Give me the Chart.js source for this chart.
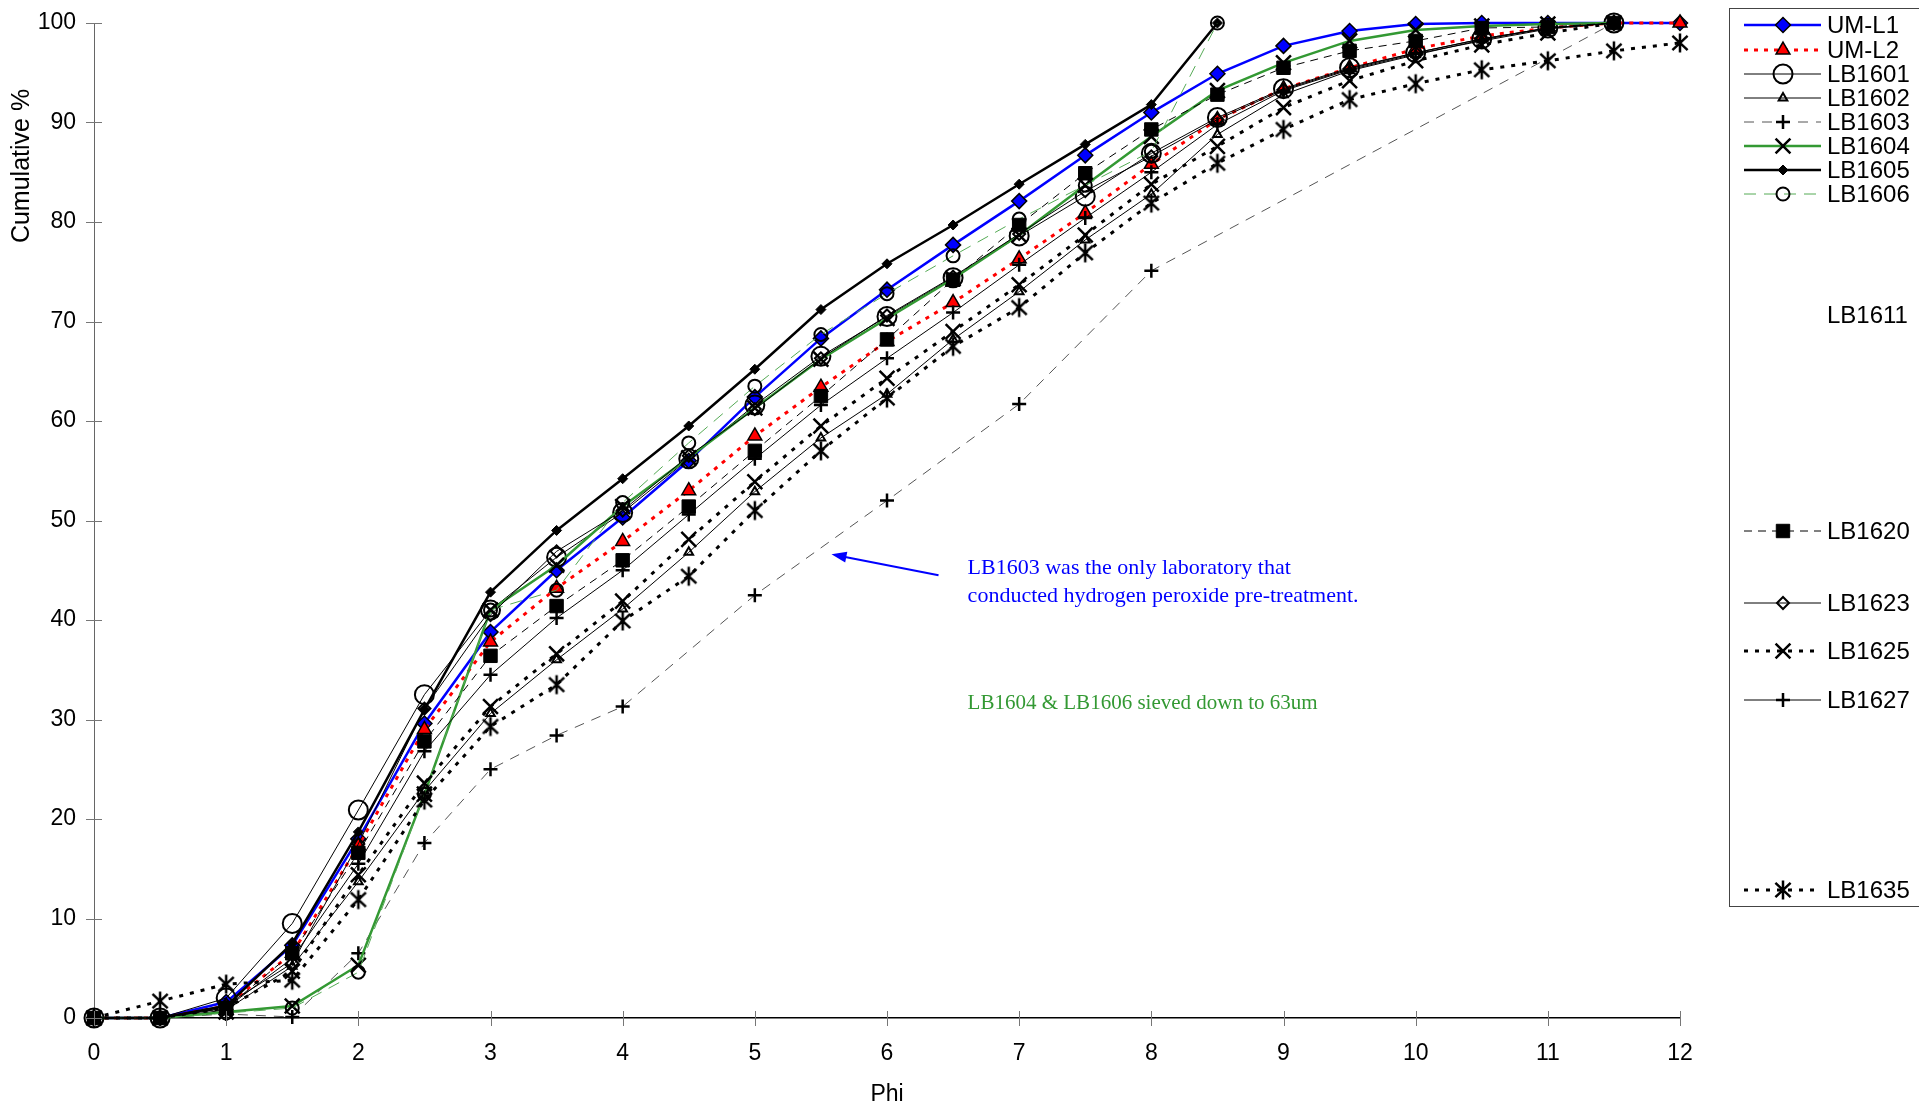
<!DOCTYPE html>
<html>
<head>
<meta charset="utf-8">
<script src="https://cdn.jsdelivr.net/npm/chart.js@4.4.1/dist/chart.umd.min.js"></script>
<style>
  html, body { margin: 0; padding: 0; background: #fff; }
  #wrap { width: 1919px; height: 1109px; }
</style>
</head>
<body>
<div id="wrap"><canvas id="chart" width="1919" height="1109"></canvas></div>
<script>
// Phi classes (x values)
const phi = [0, 0.5, 1, 1.5, 2, 2.5, 3, 3.5, 4, 4.5, 5, 5.5, 6, 6.5, 7, 7.5, 8, 8.5, 9, 9.5, 10, 10.5, 11, 11.5, 12];
const xTicks = [0, 1, 2, 3, 4, 5, 6, 7, 8, 9, 10, 11, 12];
const yTicks = [0, 10, 20, 30, 40, 50, 60, 70, 80, 90, 100];

// Cumulative % per laboratory
const umL1   = [0, 0, 1.6, 7.3, 18.0, 29.6, 38.8, 45.0, 50.3, 56.0, 62.4, 68.3, 73.2, 77.7, 82.1, 86.7, 91.0, 94.9, 97.7, 99.2, 99.9, 100, 100, 100, 100];
const umL2   = [0, 0, 1.2, 6.5, 17.3, 29.0, 37.8, 43.2, 47.9, 53.0, 58.5, 63.4, 68.0, 71.9, 76.3, 80.9, 85.8, 90.3, 93.4, 95.5, 97.4, 98.7, 99.5, 100, 100];
const lb1601 = [0, 0, 2.0, 9.5, 20.9, 32.5, 41.0, 46.3, 50.8, 56.2, 61.6, 66.5, 70.5, 74.4, 78.6, 82.6, 86.9, 90.5, 93.4, 95.5, 97.0, 98.4, 99.5, 100, null];
const lb1602 = [0, 0, 0.8, 5.2, 13.7, 22.8, 30.6, 36.0, 41.1, 46.8, 52.9, 58.3, 62.7, 68.2, 73.0, 78.2, 82.8, 88.8, 92.8, 95.2, 96.8, 98.3, 99.5, 100, null];
const lb1603 = [0, 0, 0.4, 0.1, 6.5, 17.6, 25.0, 28.4, 31.3, null, 42.5, null, 52.0, null, 61.7, null, 75.1, null, null, null, null, null, null, 100, null];
const lb1604 = [0, 0, 0.6, 1.2, 5.3, 22.5, 41.0, 45.5, 51.4, 56.3, 61.3, 66.2, 70.3, 74.3, 78.7, 83.7, 88.6, 93.2, 96.0, 98.2, 99.3, 99.7, 99.9, 100, null];
const lb1605 = [0, 0, 1.2, 7.5, 18.7, 31.0, 42.8, 49.0, 54.2, 59.5, 65.2, 71.2, 75.8, 79.7, 83.8, 87.8, 91.8, 100, null, null, null, null, null, null, null];
const lb1606 = [0, 0, 0.5, 1.0, 4.6, 22.5, 41.0, 43.0, 51.8, 57.8, 63.5, 68.7, 72.8, 76.6, 80.3, 83.7, 87.1, 100, null, null, null, null, null, null, null];
const lb1620 = [0, 0, 1.0, 6.5, 16.6, 27.8, 36.4, 41.4, 46.0, 51.4, 57.0, 62.5, 68.2, 74.2, 79.7, 84.9, 89.3, 92.8, 95.5, 97.2, 98.2, 99.5, 99.6, 100, null];
const lb1623 = [0, 0, 1.3, 5.5, 17.5, 31.1, 40.5, 46.9, 51.0, 56.5, 61.2, 66.3, 70.6, 74.5, 78.8, 83.1, 86.6, 90.3, 93.3, 95.4, 97.0, 98.4, 99.5, 100, null];
const lb1625 = [0, 0, 1.0, 4.7, 14.4, 23.6, 31.3, 36.6, 41.9, 48.1, 53.9, 59.5, 64.3, 69.0, 73.7, 78.7, 83.8, 87.6, 91.5, 94.2, 96.2, 97.8, 99.0, 100, null];
const lb1627 = [0, 0, 1.0, 6.0, 15.5, 26.8, 34.5, 40.2, 45.0, 50.6, 56.2, 61.6, 66.3, 70.9, 75.7, 80.4, 85.0, 89.8, 93.2, 95.3, 96.9, 98.2, 99.4, 100, null];
const lb1635 = [0, 1.7, 3.4, 3.8, 11.9, 21.9, 29.3, 33.5, 39.9, 44.4, 51.0, 57.0, 62.3, 67.5, 71.4, 76.9, 81.9, 85.9, 89.3, 92.3, 93.9, 95.3, 96.2, 97.2, 98.0];

// asterisk marker (X with a vertical bar), as in the original
function asterisk(size) {
    const c = document.createElement('canvas');
    c.width = size; c.height = size;
    const g = c.getContext('2d');
    const m = size / 2, r = size / 2 - 1.5;
    g.strokeStyle = '#000';
    g.lineWidth = 2.5;
    g.beginPath();
    g.moveTo(m - r * 0.8, m - r * 0.75); g.lineTo(m + r * 0.8, m + r * 0.75);
    g.moveTo(m + r * 0.8, m - r * 0.75); g.lineTo(m - r * 0.8, m + r * 0.75);
    g.moveTo(m, m - r); g.lineTo(m, m + r);
    g.stroke();
    return c;
}

const pts = arr => phi.map((x, i) => ({ x: x, y: arr[i] }));
const clear = 'rgba(0,0,0,0)';

const series = [
    { label: 'UM-L1',  data: umL1,   color: '#0000ff', width: 2.5, dash: [],      style: 'rectRot',  r: 7.5, fill: '#0000ff', pb: 1.5 },
    { label: 'UM-L2',  data: umL2,   color: '#ff0000', width: 3,   dash: [4, 6],  style: 'triangle', r: 8,   fill: '#ff0000', pb: 1.5 },
    { label: 'LB1601', data: lb1601, color: '#000000', width: 1,   dash: [],      style: 'circle',   r: 9.5, fill: clear,     pb: 2 },
    { label: 'LB1602', data: lb1602, color: '#000000', width: 1,   dash: [],      style: 'triangle', r: 5,   fill: clear,     pb: 2 },
    { label: 'LB1603', data: lb1603, color: '#555555', width: 1,   dash: [10, 8], style: 'cross',    r: 7,   fill: clear,     pb: 2.5 },
    { label: 'LB1604', data: lb1604, color: '#339933', width: 2.5, dash: [],      style: 'crossRot', r: 10.5, fill: clear,    pb: 2.5 },
    { label: 'LB1605', data: lb1605, color: '#000000', width: 2.5, dash: [],      style: 'rectRot',  r: 5,   fill: '#000000', pb: 1 },
    { label: 'LB1606', data: lb1606, color: '#55aa55', width: 1,   dash: [12, 8], style: 'circle',   r: 6.5, fill: clear,     pb: 2 },
    { label: 'LB1620', data: lb1620, color: '#000000', width: 1,   dash: [8, 6],  style: 'rect',     r: 9.5, fill: '#000000', pb: 1 },
    { label: 'LB1623', data: lb1623, color: '#000000', width: 1,   dash: [],      style: 'rectRot',  r: 6,   fill: clear,     pb: 2 },
    { label: 'LB1625', data: lb1625, color: '#000000', width: 3,   dash: [4, 7],  style: 'crossRot', r: 10.5, fill: clear,    pb: 2.5 },
    { label: 'LB1627', data: lb1627, color: '#000000', width: 1,   dash: [],      style: 'cross',    r: 7,   fill: clear,     pb: 2.5 },
    { label: 'LB1635', data: lb1635, color: '#000000', width: 3,   dash: [4, 7],  style: asterisk(22), r: 11, fill: clear,   pb: 2 }
];

// later series are painted over earlier ones, like the spreadsheet did
const datasets = series.map((s, i) => ({
    label: s.label,
    data: pts(s.data),
    order: series.length - i,
    borderColor: s.color,
    borderWidth: s.width,
    borderDash: s.dash,
    spanGaps: true,
    tension: 0,
    clip: false,
    pointStyle: s.style,
    pointRadius: s.r,
    pointBackgroundColor: s.fill,
    pointBorderColor: '#000000',
    pointBorderWidth: s.pb
}));

// legend rows (label, series index or null, text centre y)
const legendRows = [
    ['UM-L1', 0, 25], ['UM-L2', 1, 50], ['LB1601', 2, 74], ['LB1602', 3, 98],
    ['LB1603', 4, 122], ['LB1604', 5, 146], ['LB1605', 6, 170], ['LB1606', 7, 194],
    ['LB1611', null, 315], ['LB1620', 8, 531], ['LB1623', 9, 603],
    ['LB1625', 10, 651], ['LB1627', 11, 700], ['LB1635', 12, 890]
];

const decoPlugin = {
    id: 'deco',
    afterDraw(chart) {
        const ctx = chart.ctx;
        const xs = chart.scales.x, ys = chart.scales.y;
        const x0 = xs.getPixelForValue(0), y0 = ys.getPixelForValue(0);
        ctx.save();
        // cross tick marks
        ctx.strokeStyle = '#777';
        ctx.lineWidth = 1;
        ctx.beginPath();
        xTicks.forEach(v => {
            const px = Math.round(xs.getPixelForValue(v)) + 0.5;
            ctx.moveTo(px, y0 - 7); ctx.lineTo(px, y0 + 8);
        });
        yTicks.forEach(v => {
            const py = Math.round(ys.getPixelForValue(v)) + 0.5;
            ctx.moveTo(x0 - 8, py); ctx.lineTo(x0 + 8, py);
        });
        ctx.stroke();

        // axis titles
        ctx.fillStyle = '#000';
        ctx.font = '23px "Liberation Sans", Arial, sans-serif';
        ctx.textAlign = 'center';
        ctx.textBaseline = 'middle';
        ctx.fillText('Phi', (xs.left + xs.right) / 2, 1095);
        ctx.save();
        ctx.translate(22, 166);
        ctx.rotate(-Math.PI / 2);
        ctx.font = '25px "Liberation Sans", Arial, sans-serif';
        ctx.fillText('Cumulative %', 0, 0);
        ctx.restore();

        // annotations
        const ax1 = xs.getPixelForValue(6.39), ay1 = ys.getPixelForValue(44.5);
        const ax2 = xs.getPixelForValue(5.58), ay2 = ys.getPixelForValue(46.6);
        const ang = Math.atan2(ay2 - ay1, ax2 - ax1);
        ctx.strokeStyle = '#0000ff';
        ctx.fillStyle = '#0000ff';
        ctx.lineWidth = 2;
        ctx.beginPath();
        ctx.moveTo(ax1, ay1);
        ctx.lineTo(ax2 - Math.cos(ang) * 10, ay2 - Math.sin(ang) * 10);
        ctx.stroke();
        ctx.beginPath();
        ctx.moveTo(ax2, ay2);
        ctx.lineTo(ax2 - Math.cos(ang - 0.35) * 16, ay2 - Math.sin(ang - 0.35) * 16);
        ctx.lineTo(ax2 - Math.cos(ang + 0.35) * 16, ay2 - Math.sin(ang + 0.35) * 16);
        ctx.closePath();
        ctx.fill();

        ctx.font = '22px "Liberation Serif", "Times New Roman", serif';
        ctx.textAlign = 'left';
        const tx = xs.getPixelForValue(6.61);
        ctx.fillText('LB1603 was the only laboratory that', tx, ys.getPixelForValue(45.2));
        ctx.fillText('conducted hydrogen peroxide pre-treatment.', tx, ys.getPixelForValue(42.4));
        ctx.fillStyle = '#339933';
        ctx.font = '21px "Liberation Serif", "Times New Roman", serif';
        ctx.fillText('LB1604 & LB1606 sieved down to 63um', tx, ys.getPixelForValue(31.6));

        // legend
        ctx.strokeStyle = '#444';
        ctx.lineWidth = 1;
        ctx.strokeRect(1729.5, 8.5, 200, 898);
        ctx.font = '24px "Liberation Sans", Arial, sans-serif';
        ctx.textBaseline = 'middle';
        legendRows.forEach(([label, idx, y]) => {
            if (idx !== null) {
                const ds = chart.data.datasets[idx];
                ctx.save();
                ctx.strokeStyle = ds.borderColor;
                ctx.lineWidth = ds.borderWidth;
                ctx.setLineDash(ds.borderDash);
                ctx.beginPath();
                ctx.moveTo(1744, y); ctx.lineTo(1821, y);
                ctx.stroke();
                ctx.setLineDash([]);
                ctx.fillStyle = ds.pointBackgroundColor;
                ctx.strokeStyle = ds.pointBorderColor;
                ctx.lineWidth = ds.pointBorderWidth;
                Chart.helpers.drawPoint(ctx, {
                    pointStyle: ds.pointStyle, radius: ds.pointRadius,
                    rotation: 0, borderWidth: ds.pointBorderWidth
                }, 1783, y);
                ctx.restore();
            }
            ctx.fillStyle = '#000';
            ctx.textAlign = 'left';
            ctx.fillText(label, 1827, y + 1);
        });
        ctx.restore();
    }
};

new Chart(document.getElementById('chart'), {
    type: 'line',
    data: { datasets: datasets },
    options: {
        responsive: false,
        animation: false,
        devicePixelRatio: 1,
        layout: { padding: { top: 23, right: 239, left: 0, bottom: 0 } },
        plugins: { legend: { display: false }, tooltip: { enabled: false } },
        elements: { line: { borderCapStyle: 'butt' } },
        scales: {
            x: {
                type: 'linear', min: 0, max: 12,
                afterFit: s => { s.height = 91; s.paddingLeft = 0; s.paddingRight = 0; },
                afterBuildTicks: s => { s.ticks = xTicks.map(v => ({ value: v })); },
                ticks: { color: '#000', font: { size: 23, family: '"Liberation Sans", Arial' }, padding: 22, maxRotation: 0 },
                grid: { drawOnChartArea: false, drawTicks: false },
                border: { color: '#000', width: 1.5 }
            },
            y: {
                min: 0, max: 100,
                afterFit: s => { s.width = 94; s.paddingTop = 0; s.paddingBottom = 0; },
                afterBuildTicks: s => { s.ticks = yTicks.map(v => ({ value: v })); },
                ticks: { color: '#000', font: { size: 23, family: '"Liberation Sans", Arial' }, padding: 18 },
                grid: { drawOnChartArea: false, drawTicks: false },
                border: { color: '#666', width: 1 }
            }
        }
    },
    plugins: [decoPlugin]
});
</script>
</body>
</html>
